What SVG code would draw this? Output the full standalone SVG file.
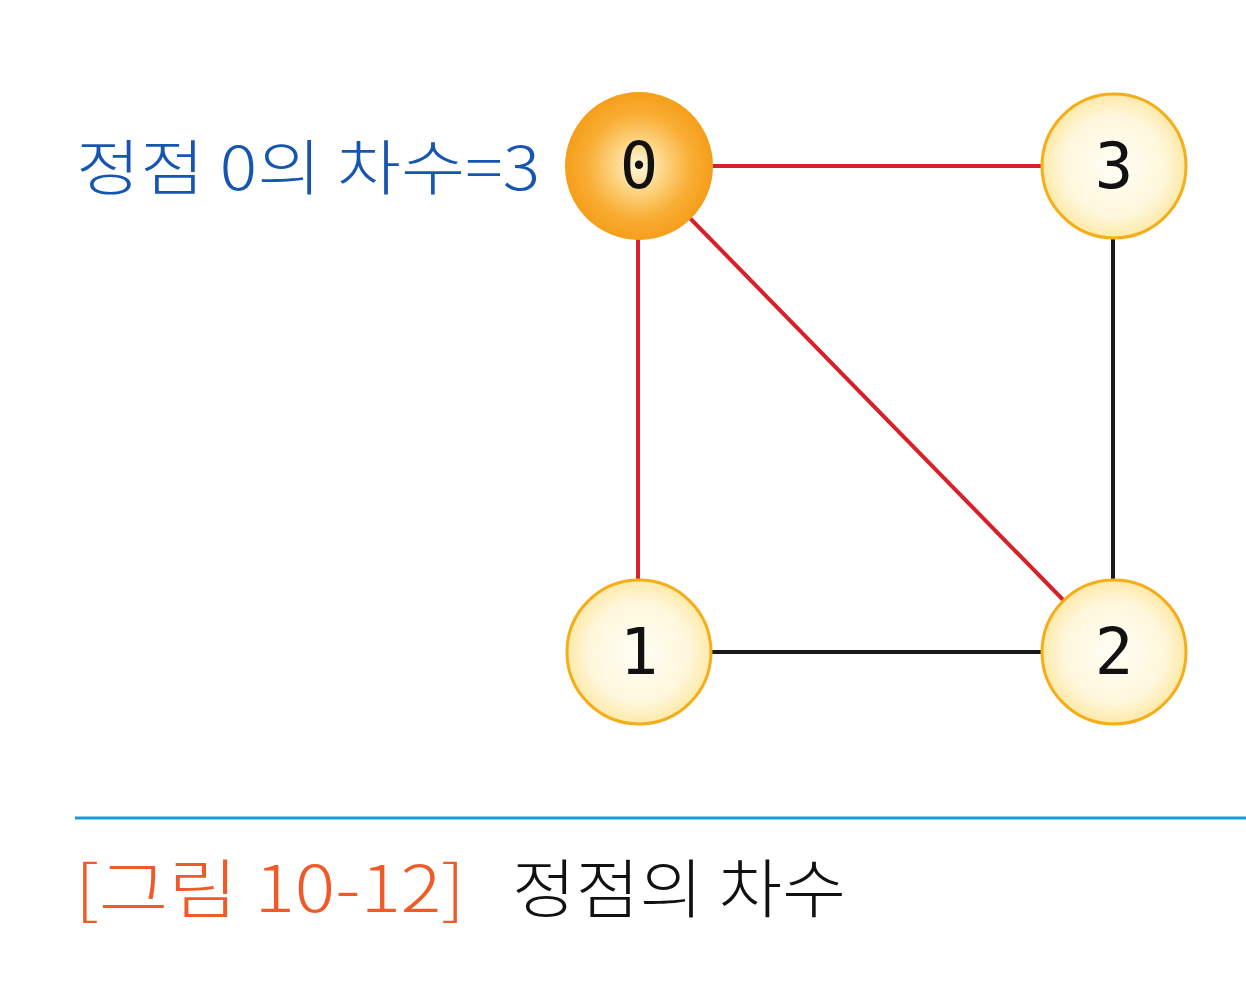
<svg xmlns="http://www.w3.org/2000/svg" width="1246" height="1000" viewBox="0 0 1246 1000">
<defs>
<radialGradient id="gHot" cx="50%" cy="50%" r="50%">
<stop offset="0" stop-color="#fff8e0"/>
<stop offset="0.3" stop-color="#fdd98c"/>
<stop offset="0.7" stop-color="#f9ae35"/>
<stop offset="1" stop-color="#f59e1a"/>
</radialGradient>
<radialGradient id="gNode" cx="50%" cy="50%" r="50%">
<stop offset="0" stop-color="#fffef6"/>
<stop offset="0.7" stop-color="#fff7dc"/>
<stop offset="1" stop-color="#fde9a8"/>
</radialGradient>
<style>
.edge{stroke-width:4;fill:none}
.red{stroke:#d9202a}
.blk{stroke:#1a1a1a}
.node{stroke:#f5ad1a;stroke-width:3}
.num{font-family:"DejaVu Sans Mono",monospace;font-size:64px;fill:#111;text-anchor:middle}
.kr{font-family:"Noto Sans CJK KR",sans-serif;font-weight:300}
</style>
</defs>
<rect width="1246" height="1000" fill="#ffffff"/>
<g id="connectors">
<line class="edge red" x1="639" y1="166" x2="1114" y2="166"/>
<line class="edge red" x1="638" y1="166" x2="638" y2="652"/>
<line class="edge red" x1="639" y1="166" x2="1114" y2="652"/>
<line class="edge blk" x1="1113" y1="166" x2="1113" y2="652"/>
<line class="edge blk" x1="639" y1="652" x2="1114" y2="652"/>
</g>
<g id="node0">
<circle cx="639" cy="166" r="74" fill="url(#gHot)"/>
<text class="num" x="639" y="188">0</text>
</g>
<g id="node3">
<circle class="node" cx="1114" cy="166" r="72" fill="url(#gNode)"/>
<text class="num" x="1114" y="188">3</text>
</g>
<g id="node1">
<circle class="node" cx="639" cy="652" r="72" fill="url(#gNode)"/>
<text class="num" x="639" y="674">1</text>
</g>
<g id="node2">
<circle class="node" cx="1114" cy="652" r="72" fill="url(#gNode)"/>
<text class="num" x="1114" y="674">2</text>
</g>
<g id="label">
<text class="kr" x="76" y="190" font-size="60" fill="#1756b0" textLength="464" lengthAdjust="spacingAndGlyphs">정점 0의 차수=3</text>
</g>
<g id="caption">
<line x1="75" y1="818" x2="1246" y2="818" stroke="#1e9ad6" stroke-width="3"/>
<text class="kr" x="75" y="912" font-size="64" fill="#f05a28" textLength="390" lengthAdjust="spacingAndGlyphs">[그림 10-12]</text>
<text class="kr" x="512" y="912" font-size="64" fill="#111" textLength="334" lengthAdjust="spacingAndGlyphs">정점의 차수</text>
</g>
</svg>
